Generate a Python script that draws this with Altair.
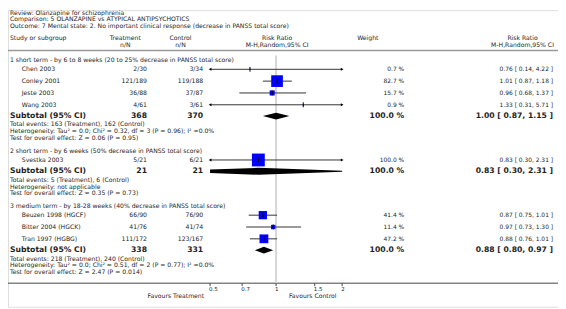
import math
import altair as alt
import pandas as pd

# ---------------- data ----------------
review = "Review:  Olanzapine for schizophrenia"
comparison = "Comparison:  5 OLANZAPINE vs ATYPICAL ANTIPSYCHOTICS"
outcome = "Outcome:  7 Mental state: 2. No important clinical response (decrease in PANSS total score)"

header_top = ["Study or subgroup", "Treatment", "Control", "Risk Ratio", "Weight", "Risk Ratio"]
header_bottom = ["", "n/N", "n/N", "M-H,Random,95% CI", "", "M-H,Random,95% CI"]

section_titles = [
    "1 short term - by 6 to 8 weeks (20 to 25% decrease in PANSS total score)",
    "2 short term - by 6 weeks (50% decrease in PANSS total score)",
    "3 medium term - by 18-28 weeks (40% decrease in PANSS total score)",
]
study_section = [0, 0, 0, 0, 1, 2, 2, 2]
study_names = ["Chen 2003", "Conley 2001", "Jeste 2003", "Wang 2003", "Svestka 2003",
               "Beuzen 1998 (HGCF)", "Bitter 2004 (HGCK)", "Tran 1997 (HGBG)"]
treat_nN = ["2/30", "121/189", "36/88", "4/61", "5/21", "66/90", "41/76", "111/172"]
ctrl_nN = ["3/34", "119/188", "37/87", "3/61", "6/21", "76/90", "41/74", "123/167"]
weights = [0.7, 82.7, 15.7, 0.9, 100.0, 41.4, 11.4, 47.2]
rr = [0.76, 1.01, 0.96, 1.33, 0.83, 0.87, 0.97, 0.88]
rr_lo = [0.14, 0.87, 0.68, 0.31, 0.30, 0.75, 0.73, 0.76]
rr_hi = [4.22, 1.18, 1.37, 5.71, 2.31, 1.01, 1.30, 1.01]

sub_treat = ["368", "21", "338"]
sub_ctrl = ["370", "21", "331"]
sub_weight = [100.0, 100.0, 100.0]
sub_rr = [1.00, 0.83, 0.88]
sub_lo = [0.87, 0.30, 0.80]
sub_hi = [1.15, 2.31, 0.97]
total_events = [
    "Total events: 163 (Treatment), 162 (Control)",
    "Total events: 5 (Treatment), 6 (Control)",
    "Total events: 218 (Treatment), 240 (Control)",
]
heterogeneity = [
    "Heterogeneity: Tau\u00b2 = 0.0; Chi\u00b2 = 0.32, df = 3 (P = 0.96); I\u00b2 =0.0%",
    "Heterogeneity: not applicable",
    "Heterogeneity: Tau\u00b2 = 0.0; Chi\u00b2 = 0.51, df = 2 (P = 0.77); I\u00b2 =0.0%",
]
overall_test = [
    "Test for overall effect: Z = 0.06 (P = 0.95)",
    "Test for overall effect: Z = 0.35 (P = 0.73)",
    "Test for overall effect: Z = 2.47 (P = 0.014)",
]

axis_ticks = [0.5, 0.7, 1, 1.5, 2]
axis_tick_labels = ["0.5", "0.7", "1", "1.5", "2"]
favours = ["Favours Treatment", "Favours Control"]

# ---------------- layout (page pixels) ----------------
OFF = 8
W, H = 566 - OFF, 309 - OFF
X_LEFT, X_STUDY = 10, 22
X_TREAT_R, X_CTRL_R = 149, 206
X_TREAT_H, X_CTRL_H = 127, 183
X_RR_H, X_W_H, X_W_R = 281, 373, 410
X_RRT_R, X_RRT_H = 561, 530
PLOT_L, PLOT_R = 213, 347
DOMAIN = [0.5, 2]

Y_TITLE = [11, 17.5, 24]
Y_H1, Y_H2, Y_LINE = 36, 43, 49
Y_SEC1 = 59
SEC_TO_STUDY, STUDY_PITCH, LAST_TO_SUB, SUB_TO_TOTAL, LINE_PITCH, SEC_GAP = 9, 12, 11.5, 8.5, 7, 13
Y_AXIS = 285

texts = []   # text, x, y, kind


def add(t, x, y, kind):
    texts.append({"t": t, "x": x - OFF, "y": y - OFF, "kind": kind})


for t, y in zip([review, comparison, outcome], Y_TITLE):
    add(t, X_LEFT, y, "l")
hx = [X_LEFT, X_TREAT_H, X_CTRL_H, X_RR_H, X_W_H, X_RRT_H]
for i, (a, b) in enumerate(zip(header_top, header_bottom)):
    kind = "l" if i == 0 else "c"
    add(a, hx[i], Y_H1, kind)
    if b:
        add(b, hx[i], Y_H2, kind)

study_rows = []
sub_rows = []
y = Y_SEC1
for s in range(3):
    add(section_titles[s], X_LEFT, y, "l")
    y += SEC_TO_STUDY
    for i, sec in enumerate(study_section):
        if sec != s:
            continue
        add(study_names[i], X_STUDY, y, "l")
        add(treat_nN[i], X_TREAT_R, y, "r")
        add(ctrl_nN[i], X_CTRL_R, y, "r")
        add(f"{weights[i]:.1f} %", X_W_R, y, "sr")
        add(f"{rr[i]:.2f} [ {rr_lo[i]:.2f}, {rr_hi[i]:.2f} ]", X_RRT_R, y, "sr")
        study_rows.append((i, y))
        y += STUDY_PITCH
    y += LAST_TO_SUB - STUDY_PITCH
    add("Subtotal (95% CI)", X_LEFT, y, "bl")
    add(sub_treat[s], X_TREAT_R, y, "br")
    add(sub_ctrl[s], X_CTRL_R, y, "br")
    add(f"{sub_weight[s]:.1f} %", X_W_R, y, "br")
    add(f"{sub_rr[s]:.2f} [ {sub_lo[s]:.2f}, {sub_hi[s]:.2f} ]", X_RRT_R, y, "br")
    sub_rows.append((s, y))
    y += SUB_TO_TOTAL
    add(total_events[s], X_LEFT, y, "l")
    y += LINE_PITCH
    add(heterogeneity[s], X_LEFT, y, "l")
    y += LINE_PITCH
    add(overall_test[s], X_LEFT, y, "l")
    y += SEC_GAP

text_df = pd.DataFrame(texts)

FONT = "DejaVu Sans"
COL = "#1e1e1e"
styles = {
    "l": dict(align="left", fontSize=6.2, fontWeight="normal"),
    "c": dict(align="center", fontSize=6.2, fontWeight="normal"),
    "r": dict(align="right", fontSize=6.2, fontWeight="normal"),
    "sr": dict(align="right", fontSize=6.0, fontWeight="normal"),
    "bl": dict(align="left", fontSize=7.8, fontWeight="bold"),
    "br": dict(align="right", fontSize=7.8, fontWeight="bold"),
}

xs = alt.Scale(type="log", domain=DOMAIN, range=[PLOT_L - OFF, PLOT_R - OFF])
ypx = alt.Y("y:Q", scale=None)

layers = []
for kind, st in styles.items():
    sub = text_df[text_df.kind == kind]
    layers.append(
        alt.Chart(sub).mark_text(font=FONT, color=COL, baseline="middle", **st).encode(
            x=alt.X("x:Q", scale=None), y=ypx, text="t:N"
        )
    )

# horizontal lines
layers.append(alt.Chart(pd.DataFrame({"y": [Y_LINE - OFF]})).mark_rule(color="#9a9a9a", strokeWidth=1.5).encode(
    x=alt.value(0), x2=alt.value(W), y=ypx))
layers.append(alt.Chart(pd.DataFrame({"y": [Y_AXIS - OFF]})).mark_rule(color="#444", strokeWidth=1).encode(
    x=alt.value(0), x2=alt.value(W), y=ypx))

# vertical line at RR = 1
layers.append(alt.Chart(pd.DataFrame({"v": [1.0], "y": [Y_LINE + 5 - OFF], "y2": [Y_AXIS - OFF]})).mark_rule(
    color="#d6d6d6", strokeWidth=2).encode(x=alt.X("v:Q", scale=xs, axis=None), y=ypx, y2="y2:Q"))

# study CIs
ci = []
for i, yy in study_rows:
    ci.append({"lo": max(rr_lo[i], DOMAIN[0]), "hi": min(rr_hi[i], DOMAIN[1]), "est": rr[i], "w": weights[i],
               "y": yy - OFF, "ya": yy - OFF - 2.5, "yb": yy - OFF + 2.5,
               "left": rr_lo[i] < DOMAIN[0], "right": rr_hi[i] > DOMAIN[1]})
ci_df = pd.DataFrame(ci)
layers.append(alt.Chart(ci_df).mark_rule(color="#333", strokeWidth=1).encode(
    x=alt.X("lo:Q", scale=xs, axis=None), x2="hi:Q", y=ypx))
layers.append(alt.Chart(ci_df).mark_square(color="#0000ff", opacity=1).encode(
    x=alt.X("est:Q", scale=xs, axis=None), y=ypx,
    size=alt.Size("w:Q", scale=alt.Scale(domain=[0, 100], range=[0, 170]), legend=None)))
layers.append(alt.Chart(ci_df).mark_rule(color="#000", strokeWidth=1).encode(
    x=alt.X("est:Q", scale=xs, axis=None), y=alt.Y("ya:Q", scale=None), y2="yb:Q"))

arrows = []
for r in ci:
    if r["left"]:
        arrows.append({"x": DOMAIN[0], "y": r["y"], "shape": "triangle-left"})
    if r["right"]:
        arrows.append({"x": DOMAIN[1], "y": r["y"], "shape": "triangle-right"})
arr_df = pd.DataFrame(arrows)
for shp in ["triangle-left", "triangle-right"]:
    layers.append(alt.Chart(arr_df[arr_df["shape"] == shp]).mark_point(
        shape=shp, filled=True, color="#000", size=10, opacity=1).encode(
        x=alt.X("x:Q", scale=xs, axis=None), y=ypx))

# subtotal diamonds (clipped to plotting range)
HD = 3.5
dia = []
L0, R0 = math.log(DOMAIN[0]), math.log(DOMAIN[1])
for s, yy in sub_rows:
    le, ll, lh = math.log(sub_rr[s]), math.log(sub_lo[s]), math.log(sub_hi[s])
    pts = []
    if ll < L0:
        pts.append((DOMAIN[0], HD * (L0 - ll) / (le - ll)))
    else:
        pts.append((sub_lo[s], 0))
    pts.append((sub_rr[s], HD))
    if lh > R0:
        pts.append((DOMAIN[1], HD * (lh - R0) / (lh - le)))
    else:
        pts.append((sub_hi[s], 0))
    for xv, hh in pts:
        dia.append({"g": s, "x": xv, "y": yy - OFF - hh, "y2": yy - OFF + hh})
dia_df = pd.DataFrame(dia)
layers.append(alt.Chart(dia_df).mark_area(color="#000", orient="vertical", opacity=1).encode(
    x=alt.X("x:Q", scale=xs, axis=None), y=ypx, y2="y2:Q", detail="g:N"))

# axis ticks and labels
tick_df = pd.DataFrame({"v": axis_ticks, "lab": axis_tick_labels,
                        "y": [Y_AXIS - OFF] * 5, "y2": [Y_AXIS - OFF + 3] * 5, "yl": [Y_AXIS - OFF + 6] * 5})
layers.append(alt.Chart(tick_df).mark_rule(color="#444").encode(
    x=alt.X("v:Q", scale=xs, axis=None), y=ypx, y2="y2:Q"))
layers.append(alt.Chart(tick_df).mark_text(font=FONT, fontSize=5.6, color=COL, align="left", baseline="middle", dx=-1).encode(
    x=alt.X("v:Q", scale=xs, axis=None), y=alt.Y("yl:Q", scale=None), text="lab:N"))

fav_df = pd.DataFrame({"t": favours, "x": [207 - OFF, 293 - OFF], "y": [Y_AXIS + 13 - OFF] * 2})
for i, al in enumerate(["right", "left"]):
    layers.append(alt.Chart(fav_df.iloc[[i]]).mark_text(font=FONT, fontSize=6.2, color=COL, align=al, baseline="middle").encode(
        x=alt.X("x:Q", scale=None), y=ypx, text="t:N"))

chart = alt.layer(*layers).resolve_scale(x="independent", y="independent", size="independent").properties(
    width=W, height=H, autosize=alt.AutoSizeParams(type="none"), padding=0,
).configure_view(stroke=None).configure(background="white")

chart.save("out.html", embed_options={"renderer": "svg", "actions": False})
